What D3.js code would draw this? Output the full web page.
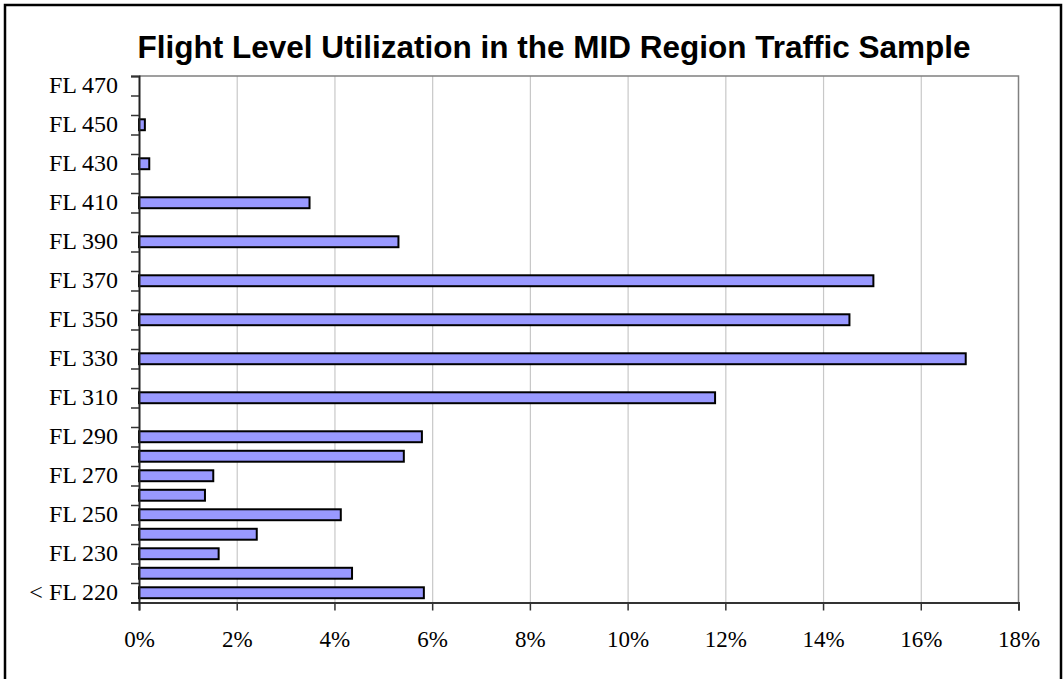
<!DOCTYPE html>
<meta charset="utf-8">
<script src="https://d3js.org/d3.v7.min.js"></script>
<style>
  body { margin: 0; background: #fff; }
</style>
<div id="chart"></div>
<script>

// flight levels, bottom to top
var levels = ["< FL 220", "FL 220", "FL 230", "FL 240", "FL 250", "FL 260", "FL 270", "FL 280", "FL 290",
              "FL 300", "FL 310", "FL 320", "FL 330", "FL 340", "FL 350", "FL 360", "FL 370", "FL 380",
              "FL 390", "FL 400", "FL 410", "FL 420", "FL 430", "FL 440", "FL 450", "FL 460", "FL 470"];

// share of traffic at each level
var shares = [0.0583, 0.0436, 0.0163, 0.0241, 0.0413, 0.0135, 0.0152, 0.0542, 0.0579,
              0, 0.1179, 0, 0.1692, 0, 0.1454, 0, 0.1503, 0,
              0.0531, 0, 0.0349, 0, 0.0021, 0, 0.0012, 0, 0];

var xTicks = [0, 0.02, 0.04, 0.06, 0.08, 0.10, 0.12, 0.14, 0.16, 0.18];

var title = "Flight Level Utilization in the MID Region Traffic Sample";

var W = 1064, H = 679;
var plot = {left: 139, right: 1018.5, top: 76, bottom: 602.5};

var svg = d3.select("#chart")
  .append("svg")
    .attr("width", W)
    .attr("height", H);

// outer frame
svg.append("rect")
  .attr("x", 5).attr("y", 5)
  .attr("width", 1056).attr("height", 690)
  .attr("fill", "#fff")
  .attr("stroke", "#000")
  .attr("stroke-width", 2.5);

var x = d3.scaleLinear()
  .domain([0, 0.18])
  .range([plot.left, plot.right]);

// band per level, bars take ~55% of each band
var y = d3.scaleBand()
  .domain(levels)
  .range([plot.bottom, plot.top])
  .paddingInner(0.44)
  .paddingOuter(0.22);

// edges between levels, for the tick marks
var yEdge = d3.scaleLinear()
  .domain([0, levels.length])
  .range([plot.bottom, plot.top]);

// grid lines
svg.append("g")
  .attr("transform", "translate(0," + plot.bottom + ")")
  .call(d3.axisBottom(x).tickValues(xTicks.slice(1, -1)).tickSize(-(plot.bottom - plot.top)).tickFormat(""))
  .call(function(g) { g.select(".domain").remove(); })
  .selectAll("line")
    .attr("stroke", "#c8c8c8")
    .attr("stroke-width", 1.2);

// top and right border of the plot area
svg.append("path")
  .attr("d", "M" + plot.left + "," + plot.top + "H" + plot.right + "V" + plot.bottom)
  .attr("fill", "none")
  .attr("stroke", "#808080")
  .attr("stroke-width", 1.5);

// bars
svg.selectAll(".bar")
  .data(shares)
  .enter()
  .append("rect")
    .attr("class", "bar")
    .attr("x", x(0))
    .attr("y", function(d, i) { return y(levels[i]); })
    .attr("width", function(d) { return x(d) - x(0); })
    .attr("height", y.bandwidth())
    .attr("fill", "#9999ff")
    .attr("stroke", function(d) { return d > 0 ? "#000" : "none"; })
    .attr("stroke-width", 2);

// x axis
var xAxis = svg.append("g")
  .attr("transform", "translate(0," + plot.bottom + ")")
  .call(d3.axisBottom(x).tickValues(xTicks).tickSize(8).tickPadding(20).tickFormat(d3.format(".0%")));
xAxis.select(".domain").attr("stroke", "#333").attr("stroke-width", 2);
xAxis.selectAll("line").attr("stroke", "#333").attr("stroke-width", 1.5);
xAxis.selectAll("text")
  .attr("font-family", "'Liberation Serif', 'Times New Roman', serif")
  .attr("font-size", "23px")
  .attr("fill", "#000");

// y axis tick marks at the level edges
var yTicks = svg.append("g")
  .attr("transform", "translate(" + plot.left + ",0)")
  .call(d3.axisLeft(yEdge).tickValues(d3.range(levels.length + 1)).tickSize(8).tickFormat(""));
yTicks.select(".domain").attr("stroke", "#222").attr("stroke-width", 2);
yTicks.selectAll("line").attr("stroke", "#333").attr("stroke-width", 1.5);

// y labels, every other level
var yLabels = svg.append("g")
  .attr("transform", "translate(" + plot.left + ",0)")
  .call(d3.axisLeft(y).tickSize(0).tickPadding(21)
        .tickFormat(function(d, i) { return i % 2 == 0 ? d : ""; }));
yLabels.select(".domain").remove();
yLabels.selectAll("text")
  .attr("font-family", "'Liberation Serif', 'Times New Roman', serif")
  .attr("font-size", "24px")
  .attr("fill", "#000");

// title
svg.append("text")
  .attr("x", 554)
  .attr("y", 58)
  .attr("text-anchor", "middle")
  .attr("font-family", "'Liberation Sans', Arial, sans-serif")
  .attr("font-weight", "bold")
  .attr("font-size", "31.5px")
  .attr("fill", "#000")
  .text(title);

</script>
